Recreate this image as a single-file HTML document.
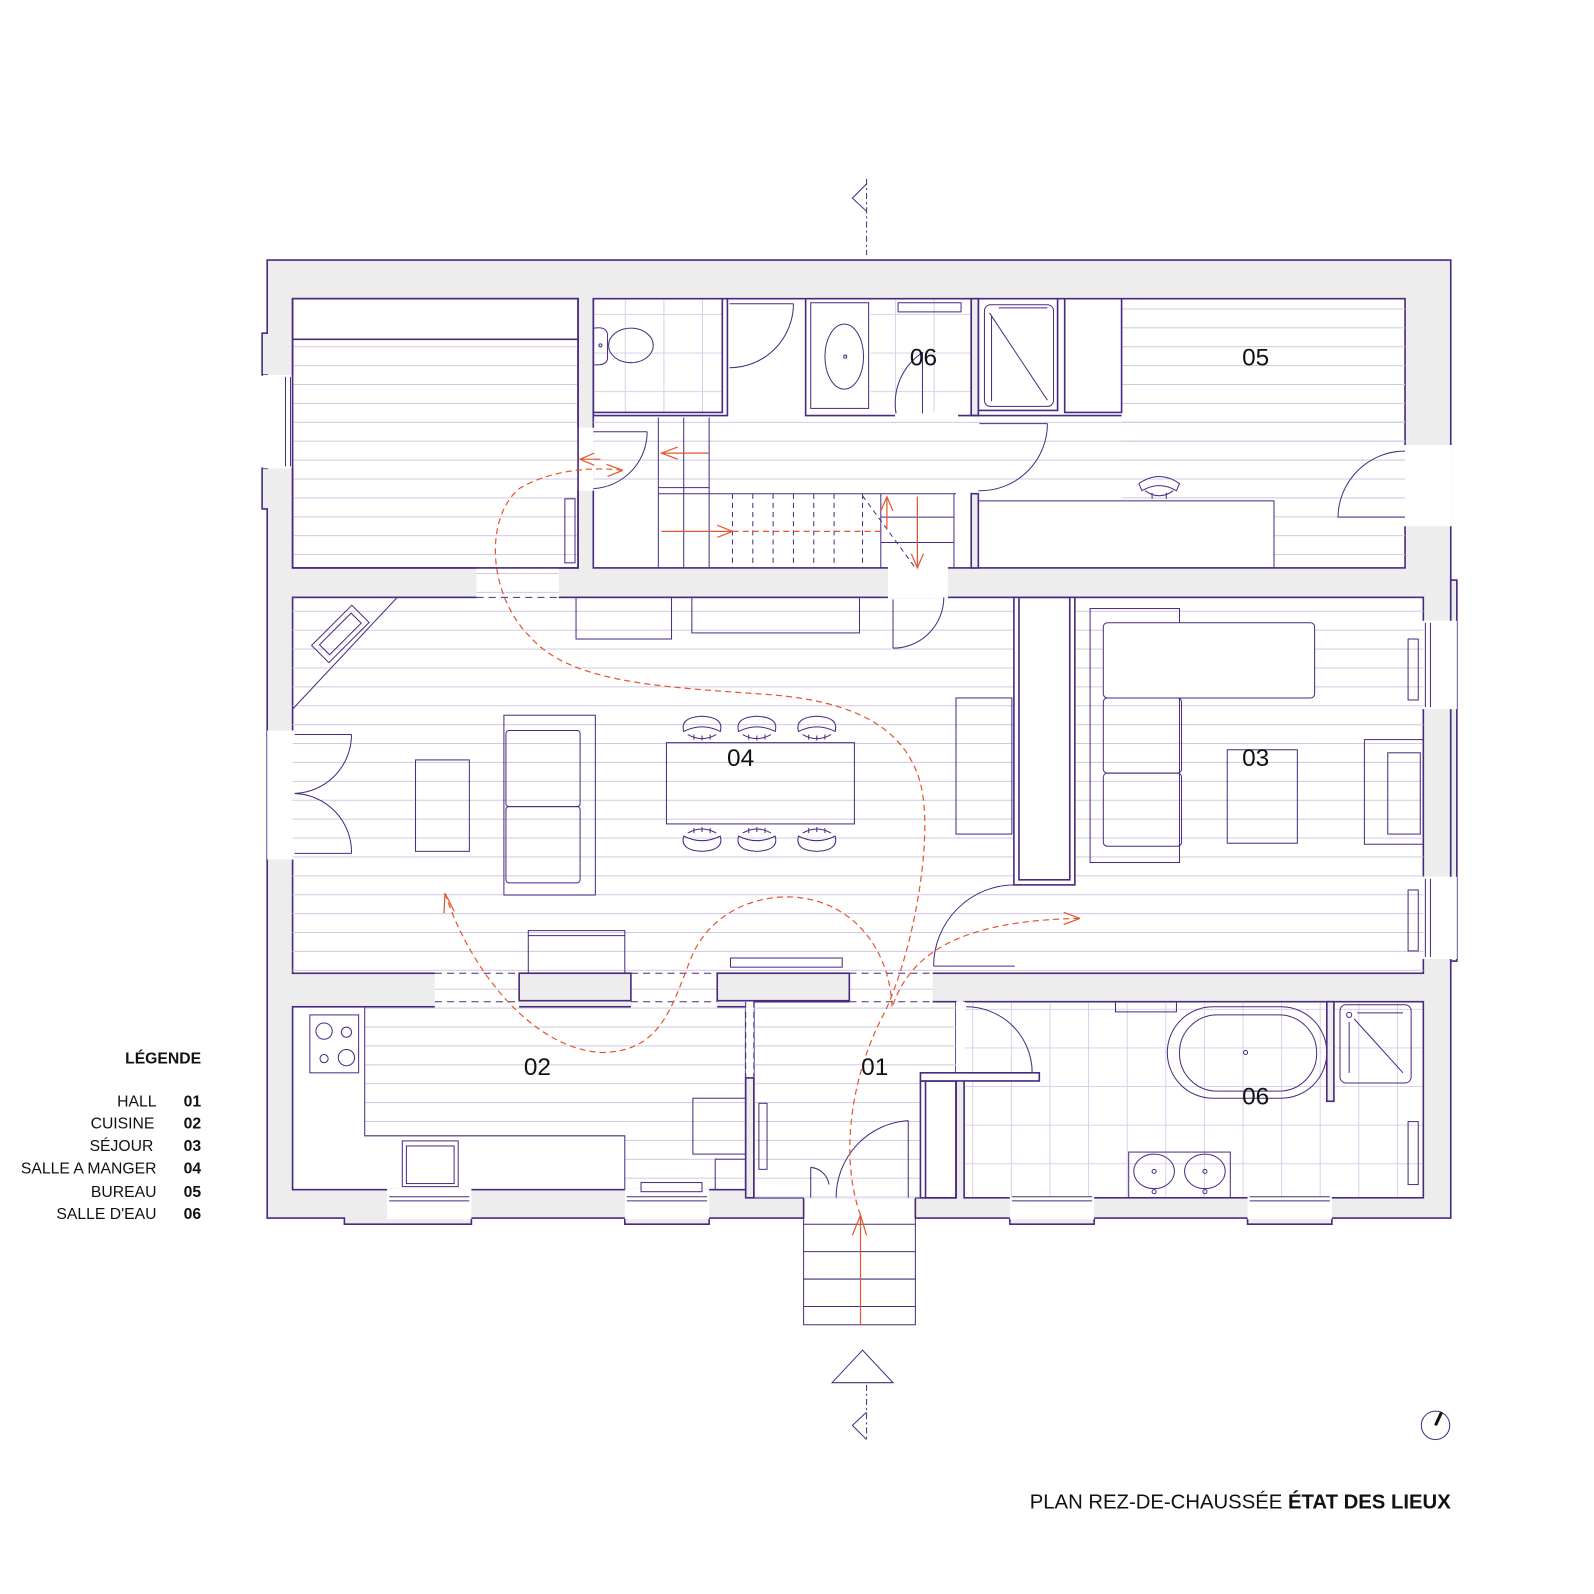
<!DOCTYPE html>
<html><head><meta charset="utf-8"><style>
html,body{margin:0;padding:0;background:#fff;}
svg{display:block;}
text{font-family:"Liberation Sans",sans-serif;}
</style></head><body>
<svg width="1594" height="1594" viewBox="-1 -1 1569 1569" xmlns="http://www.w3.org/2000/svg">
<defs>
<pattern id="h" patternUnits="userSpaceOnUse" width="40" height="18.6" y="5">
<line x1="0" y1="0.5" x2="40" y2="0.5" stroke="#cfc8e2" stroke-width="1"/>
</pattern>
<pattern id="t" patternUnits="userSpaceOnUse" width="38" height="38" x="6" y="4">
<path d="M0 0.5H38M0.5 0V38" stroke="#d8d0ea" stroke-width="1" fill="none"/>
</pattern>
</defs>
<g stroke="#4a2a80" stroke-width="1.6">
<path d="M262 255H1427V1198H1310V1204H1227V1198H1076V1204H993V1198H900V1178H790V1198H697V1204H614V1198H463V1204H338V1198H262V845V718H262V500H257V460H262V368H257V327H262Z" fill="#ededed"/>
<rect x="1427" y="570" width="6" height="375" fill="#ededed"/>
</g>
<g fill="#fff" stroke="#4a2a80" stroke-width="1.6">
<rect x="287" y="293" width="281" height="265"/>
<rect x="583" y="293" width="799" height="265"/>
<rect x="287" y="587" width="1113" height="370"/>
<rect x="287" y="990" width="446" height="180"/>
<rect x="741" y="985" width="199" height="193"/>
<rect x="948" y="985" width="452" height="193"/>
</g>
<g fill="#fff" stroke="none">
<rect x="468" y="557" width="81" height="31"/>
<rect x="873" y="557" width="59" height="31"/>
<rect x="427" y="956" width="83" height="35"/>
<rect x="620" y="956" width="85" height="35"/>
<rect x="835" y="956" width="82" height="35"/>
<rect x="733" y="985" width="8" height="75"/>
<rect x="567" y="420" width="17" height="62"/>
<rect x="258" y="368" width="30" height="92"/>
<rect x="262" y="718" width="26" height="127"/>
<rect x="1381" y="437" width="47" height="80"/>
<rect x="1399" y="610" width="34" height="87"/>
<rect x="1399" y="862" width="34" height="81"/>
<rect x="380" y="1169" width="83" height="30"/>
<rect x="614" y="1169" width="83" height="30"/>
<rect x="993" y="1169" width="83" height="30"/>
<rect x="1227" y="1169" width="83" height="30"/>
<rect x="790" y="1169" width="110" height="10"/>
<rect x="940" y="985" width="9" height="70"/>
</g>
<g fill="url(#h)">
<rect x="287" y="333" width="281" height="225"/>
<rect x="583" y="410" width="799" height="75"/>
<rect x="1103" y="293" width="279" height="199"/>
<rect x="1253" y="485" width="129" height="73"/>
<rect x="287" y="587" width="1113" height="370"/>
<rect x="468" y="558" width="81" height="29"/>
<rect x="427" y="957" width="83" height="33"/>
<rect x="620" y="957" width="85" height="33"/>
<rect x="835" y="957" width="82" height="33"/>
<rect x="358" y="990" width="375" height="127"/>
<rect x="614" y="1117" width="119" height="53"/>
<rect x="741" y="985" width="199" height="193"/>
</g>
<g fill="url(#t)">
<rect x="584" y="294" width="126" height="111"/>
<rect x="856" y="294" width="98" height="110"/>
<rect x="949" y="986" width="450" height="191"/>
</g>
<g fill="none" stroke="#4a2a80" stroke-width="1.6">
<rect x="287" y="293" width="281" height="265"/>
<line x1="287" y1="333" x2="568" y2="333"/>
<path d="M583 293V408H715V293"/>
<path d="M710 293V405H583"/>
<path d="M792 293V408H880M942 408H955V293M792 293V405"/>
<rect x="955" y="293" width="7" height="115" fill="#ededed"/>
<path d="M962 293V403H1040V293M1047 293V405H1103V293M955 408H1103"/>
<path d="M955 485V558H962V485Z" fill="#ededed"/>
<rect x="997" y="587" width="60" height="283" fill="#fff"/>
<rect x="1002" y="587" width="50" height="278"/>
<rect x="733" y="1060" width="8" height="118" fill="#ededed"/>
<rect x="510" y="957" width="110" height="27" fill="#ededed"/>
<rect x="705" y="957" width="130" height="27" fill="#ededed"/>
<rect x="905" y="1063" width="35" height="115" fill="#fff"/>
<rect x="910" y="1063" width="30" height="115"/>
<rect x="905" y="1055" width="117" height="8" fill="#fff"/>
<rect x="1305" y="985" width="7" height="98" fill="#ededed"/>
</g>
<g fill="none" stroke="#4a2a80" stroke-width="1">
<path d="M280 370V458M285 370V458M1402 612V695M1407 612V695M1402 864V941M1407 864V941"/>
<path d="M382 1177H461M382 1181H461M616 1177H695M616 1181H695M995 1177H1074M995 1181H1074M1229 1177H1308M1229 1181H1308"/>
<rect x="555" y="490" width="10" height="63"/>
<path d="M584 322q12-2 13 6v24q-1 7-13 6"/>
<ellipse cx="620" cy="339" rx="22" ry="17"/>
<circle cx="590" cy="339" r="1.5"/>
<path d="M717 298H780M780 298A63 63 0 0 1 717 361"/>
<rect x="797" y="297" width="57" height="104"/>
<ellipse cx="830" cy="350" rx="19" ry="32"/>
<circle cx="831" cy="350" r="1.5"/>
<rect x="883" y="297" width="62" height="9"/>
<path d="M905 346H907V406M907 346A60 60 0 0 0 881 406"/>
<rect x="968" y="299" width="68" height="100" rx="6"/>
<path d="M973 307L1030 393M975 310V394M982 302H1030"/>
<path d="M583 424H636M636 424A56 56 0 0 1 583 480"/>
<path d="M963 416H1030M1030 416A66 66 0 0 1 962 482"/>
<path d="M1382 443A66 66 0 0 0 1316 508H1382"/>
<path d="M647 410V558M672 410V485M697 410V485M647 479H697M647 485H940M866 485V558M938 485V558M866 508H938M866 533H938M672 485V558M697 485V558"/>
<path d="M720 485V558M740 485V558M760 485V558M780 485V558M800 485V558M820 485V558M848 485V558M848 487L900 558" stroke-dasharray="5 4"/>
<rect x="962" y="492" width="291" height="66"/>
<path d="M1120 475q20-14 40 0l-3 7q-17-10-34 0z"/>
<path d="M1126 482q14 10 28 0M1133 484v6M1147 484v6"/>
<path d="M878 589V637M878 637A50 50 0 0 0 928 587"/>
<path d="M287 697L390 587"/>
<g transform="rotate(-45 334 623)"><rect x="306" y="611" width="56" height="24"/><rect x="312" y="616" width="44" height="14"/></g>
<rect x="566" y="587" width="94" height="41"/>
<rect x="680" y="587" width="165" height="35"/>
<rect x="655" y="730" width="185" height="80"/>
<rect x="495" y="703" width="90" height="177"/>
<rect x="497" y="718" width="73" height="75" rx="3"/>
<rect x="497" y="793" width="73" height="75" rx="3"/>
<rect x="408" y="747" width="53" height="90"/>
<rect x="940" y="686" width="55" height="134"/>
<rect x="519" y="915" width="95" height="42"/>
<path d="M519 920H614"/>
<rect x="718" y="942" width="110" height="9"/>
<g id="ch"><path d="M672 719q-4-14 18-15 22 1 18 15q-18-9-36 0z"/><path d="M676 722q14 8 28 0M682 722v5M690 723v5M698 722v5"/></g>
<use href="#ch" x="54"/><use href="#ch" x="113"/>
<g transform="matrix(1 0 0 -1 0 1541)"><use href="#ch"/><use href="#ch" x="54"/><use href="#ch" x="113"/></g>
<path d="M289 722H345M345 722A58 58 0 0 1 289 780M289 839H345M345 839A58 58 0 0 0 289 780"/>
<rect x="1072" y="598" width="88" height="250"/>
<rect x="1085" y="612" width="208" height="74" rx="4" fill="#fff"/>
<rect x="1085" y="686" width="77" height="74" rx="4"/>
<rect x="1085" y="760" width="77" height="72" rx="4"/>
<rect x="1207" y="737" width="69" height="92"/>
<rect x="1342" y="727" width="58" height="103"/>
<rect x="1365" y="740" width="32" height="80"/>
<rect x="1385" y="628" width="10" height="60"/>
<rect x="1385" y="875" width="10" height="60"/>
<path d="M998 950H918M918 950A80 80 0 0 1 998 870"/>
<rect x="304" y="998" width="48" height="57"/>
<circle cx="318" cy="1014" r="8"/><circle cx="340" cy="1015" r="5"/><circle cx="318" cy="1041" r="4"/><circle cx="340" cy="1040" r="8"/>
<path d="M358 990V1117H614V1170"/>
<rect x="395" y="1122" width="55" height="45"/>
<rect x="399" y="1127" width="47" height="37"/>
<rect x="681" y="1080" width="52" height="55"/>
<rect x="703" y="1140" width="30" height="30"/>
<rect x="630" y="1163" width="60" height="9"/>
<path d="M733 985V1060M741 985V1060" stroke-dasharray="6 4"/>
<path d="M468 558H549M468 587H549M427 957H510M427 985H510M620 957H705M620 985H705M835 957H917M835 985H917" stroke-dasharray="7 5"/>
<rect x="746" y="1085" width="8" height="65"/>
<path d="M893 1178V1102M893 1102A76 76 0 0 0 822 1178"/>
<path d="M797 1178V1148M797 1148A20 20 0 0 1 815 1165"/>
<path d="M950 1055H1015M1015 1055A65 65 0 0 0 950 990"/>
<rect x="1097" y="985" width="60" height="10"/>
<rect x="1148" y="990" width="157" height="90" rx="45"/>
<rect x="1160" y="998" width="135" height="75" rx="37"/>
<circle cx="1225" cy="1035" r="2"/>
<rect x="1318" y="988" width="70" height="77" rx="6"/>
<circle cx="1327" cy="998" r="2.5"/>
<path d="M1332 1002L1380 1055M1327 1005V1055M1335 996H1380"/>
<rect x="1110" y="1133" width="100" height="45"/>
<ellipse cx="1135" cy="1152" rx="20" ry="17"/><ellipse cx="1185" cy="1152" rx="20" ry="17"/>
<circle cx="1135" cy="1152" r="2"/><circle cx="1185" cy="1152" r="2"/><circle cx="1135" cy="1172" r="2"/><circle cx="1185" cy="1172" r="2"/>
<rect x="1385" y="1103" width="10" height="62"/>
<path d="M790 1178V1303H900V1178M790 1204H900M790 1231H900M790 1258H900M790 1285H900"/>
<path d="M852 175V250M852 1362V1418" stroke-dasharray="6 3 2 3"/>
<path d="M852 180L838 194L852 207"/>
<path d="M852 1389L838 1402L852 1416"/>
<path d="M848 1328L818 1360H878Z"/>
<circle cx="1412" cy="1402" r="14"/>
</g>
<path d="M1412 1402L1418 1389" stroke="#111" stroke-width="3"/>
<g fill="none" stroke="#e4572e" stroke-width="1.2">
<path d="M846 1195C826 1140 835 1060 870 995C900 930 918 820 905 770C890 715 840 690 760 683C650 675 560 672 520 625C480 585 475 510 510 480C540 462 580 458 612 462" stroke-dasharray="6 4"/>
<path d="M437 878C460 950 520 1030 590 1035C650 1035 660 990 680 940C700 895 745 880 780 882C840 886 875 935 877 990" stroke-dasharray="6 4"/>
<path d="M878 988C895 940 940 905 1062 903" stroke-dasharray="6 4"/>
<path d="M846 1303V1196M838 1215L846 1195L852 1215"/>
<path d="M437 878L436 898M437 878L446 896"/>
<path d="M612 462L596 456M612 462L597 468"/>
<path d="M1062 903L1046 897M1062 903L1046 909"/>
<path d="M697 445H650M666 439L650 445L666 451"/>
<path d="M590 451H570M584 445L570 451L584 457"/>
<path d="M650 522H720M705 516L720 522L705 528"/>
<path d="M720 522H866" stroke-dasharray="6 4"/>
<path d="M872 520V488M866 502L872 488L878 502"/>
<path d="M902 488V558M896 544L902 558L908 544"/>
</g>
<g font-size="24" fill="#111">
<text x="728" y="753" text-anchor="middle">04</text>
<text x="1235" y="753" text-anchor="middle">03</text>
<text x="1235" y="359" text-anchor="middle">05</text>
<text x="908" y="359" text-anchor="middle">06</text>
<text x="528" y="1057" text-anchor="middle">02</text>
<text x="860" y="1057" text-anchor="middle">01</text>
<text x="1235" y="1086" text-anchor="middle">06</text>
</g>
<g font-size="15.5" fill="#111" text-anchor="end">
<text x="197" y="1046" font-weight="bold">LÉGENDE</text>
<text x="153" y="1088">HALL</text><text x="197" y="1088" font-weight="bold">01</text>
<text x="151" y="1110">CUISINE</text><text x="197" y="1110" font-weight="bold">02</text>
<text x="150" y="1132">SÉJOUR</text><text x="197" y="1132" font-weight="bold">03</text>
<text x="153" y="1154">SALLE A MANGER</text><text x="197" y="1154" font-weight="bold">04</text>
<text x="153" y="1177">BUREAU</text><text x="197" y="1177" font-weight="bold">05</text>
<text x="153" y="1199">SALLE D'EAU</text><text x="197" y="1199" font-weight="bold">06</text>
</g>
<text x="1427" y="1484" font-size="20" fill="#111" text-anchor="end">PLAN REZ-DE-CHAUSSÉE <tspan font-weight="bold">ÉTAT DES LIEUX</tspan></text>
</svg>
</body></html>
